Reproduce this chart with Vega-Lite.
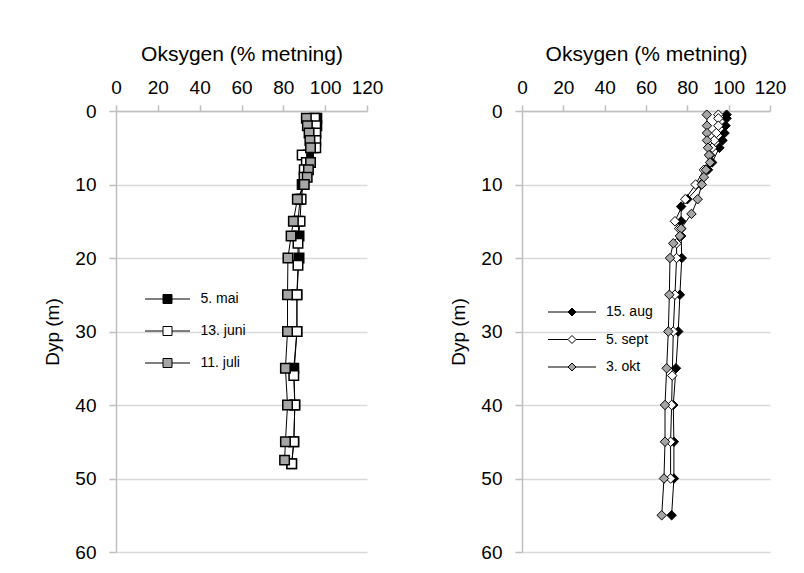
{
  "$schema": "https://vega.github.io/schema/vega-lite/v6.json",
  "padding": {"left": 43, "top": 43, "right": 0, "bottom": 0},
  "spacing": 66,
  "background": "white",
  "resolve": {"scale": {"fill": "independent"}, "legend": {"fill": "independent"}},
  "config": {
    "font": "Liberation Sans",
    "view": {"stroke": null},
    "axis": {
      "labelFont": "Liberation Sans", "titleFont": "Liberation Sans",
      "labelFontSize": 19, "titleFontSize": 19, "titleFontWeight": "normal",
      "labelColor": "#000000", "titleColor": "#000000", "labelOverlap": false, "labelBound": false, "labelFlush": false,
      "domainColor": "#bfbfbf", "tickColor": "#bfbfbf", "domainWidth": 1.5, "tickWidth": 1.5,
      "gridColor": "#d9d9d9", "gridWidth": 1.5
    },
    "legend": {
      "labelFont": "Liberation Sans", "labelFontSize": 14, "labelColor": "#000000",
      "padding": 0, "symbolStrokeColor": "#000000", "symbolStrokeWidth": 1
    }
  },
  "datasets": {
    "left": [
      {"s": "5. mai", "d": 1, "o": 96}, {"s": "5. mai", "d": 2, "o": 96}, {"s": "5. mai", "d": 3, "o": 95.5}, {"s": "5. mai", "d": 4, "o": 95}, {"s": "5. mai", "d": 5, "o": 94.5}, {"s": "5. mai", "d": 6, "o": 92}, {"s": "5. mai", "d": 7, "o": 92}, {"s": "5. mai", "d": 8, "o": 91}, {"s": "5. mai", "d": 9, "o": 90}, {"s": "5. mai", "d": 10, "o": 89}, {"s": "5. mai", "d": 12, "o": 88}, {"s": "5. mai", "d": 15, "o": 87}, {"s": "5. mai", "d": 17, "o": 87.5}, {"s": "5. mai", "d": 20, "o": 87.5}, {"s": "5. mai", "d": 25, "o": 86.5}, {"s": "5. mai", "d": 30, "o": 86.5}, {"s": "5. mai", "d": 35, "o": 85}, {"s": "5. mai", "d": 40, "o": 85.5}, {"s": "5. mai", "d": 45, "o": 85}, {"s": "5. mai", "d": 48, "o": 84},
      {"s": "13. juni", "d": 1, "o": 95}, {"s": "13. juni", "d": 2, "o": 95.5}, {"s": "13. juni", "d": 3, "o": 95.5}, {"s": "13. juni", "d": 4, "o": 95.5}, {"s": "13. juni", "d": 5, "o": 95.5}, {"s": "13. juni", "d": 6, "o": 89}, {"s": "13. juni", "d": 7, "o": 91}, {"s": "13. juni", "d": 8, "o": 90}, {"s": "13. juni", "d": 9, "o": 90}, {"s": "13. juni", "d": 10, "o": 89.5}, {"s": "13. juni", "d": 12, "o": 88.5}, {"s": "13. juni", "d": 15, "o": 88}, {"s": "13. juni", "d": 18, "o": 87}, {"s": "13. juni", "d": 21, "o": 87}, {"s": "13. juni", "d": 25, "o": 86.5}, {"s": "13. juni", "d": 30, "o": 86.5}, {"s": "13. juni", "d": 36, "o": 85}, {"s": "13. juni", "d": 40, "o": 85.5}, {"s": "13. juni", "d": 45, "o": 85}, {"s": "13. juni", "d": 48, "o": 84},
      {"s": "11. juli", "d": 1, "o": 91}, {"s": "11. juli", "d": 2, "o": 91.5}, {"s": "11. juli", "d": 3, "o": 92.3}, {"s": "11. juli", "d": 4, "o": 92.7}, {"s": "11. juli", "d": 5, "o": 93}, {"s": "11. juli", "d": 7, "o": 93}, {"s": "11. juli", "d": 8, "o": 92}, {"s": "11. juli", "d": 9, "o": 91.4}, {"s": "11. juli", "d": 10, "o": 90}, {"s": "11. juli", "d": 12, "o": 86.7}, {"s": "11. juli", "d": 15, "o": 84.8}, {"s": "11. juli", "d": 17, "o": 83.7}, {"s": "11. juli", "d": 20, "o": 82.2}, {"s": "11. juli", "d": 25, "o": 82}, {"s": "11. juli", "d": 30, "o": 82}, {"s": "11. juli", "d": 35, "o": 81}, {"s": "11. juli", "d": 40, "o": 82}, {"s": "11. juli", "d": 45, "o": 81}, {"s": "11. juli", "d": 47.5, "o": 80.6}
    ],
    "right": [
      {"s": "15. aug", "d": 0.5, "o": 99}, {"s": "15. aug", "d": 1, "o": 99}, {"s": "15. aug", "d": 2, "o": 98.5}, {"s": "15. aug", "d": 3, "o": 98}, {"s": "15. aug", "d": 4, "o": 97}, {"s": "15. aug", "d": 5, "o": 95.5}, {"s": "15. aug", "d": 7, "o": 92}, {"s": "15. aug", "d": 8, "o": 90}, {"s": "15. aug", "d": 10, "o": 86.6}, {"s": "15. aug", "d": 12, "o": 80}, {"s": "15. aug", "d": 13, "o": 77}, {"s": "15. aug", "d": 15, "o": 77}, {"s": "15. aug", "d": 16, "o": 77}, {"s": "15. aug", "d": 17, "o": 77}, {"s": "15. aug", "d": 20, "o": 77.3}, {"s": "15. aug", "d": 25, "o": 76.4}, {"s": "15. aug", "d": 30, "o": 75.6}, {"s": "15. aug", "d": 35, "o": 74.5}, {"s": "15. aug", "d": 40, "o": 73.2}, {"s": "15. aug", "d": 45, "o": 73.5}, {"s": "15. aug", "d": 50, "o": 73.5}, {"s": "15. aug", "d": 55, "o": 72.4},
      {"s": "5. sept", "d": 0.5, "o": 95}, {"s": "5. sept", "d": 1, "o": 95}, {"s": "5. sept", "d": 2, "o": 95}, {"s": "5. sept", "d": 3, "o": 94}, {"s": "5. sept", "d": 4, "o": 93}, {"s": "5. sept", "d": 5, "o": 92}, {"s": "5. sept", "d": 6, "o": 91}, {"s": "5. sept", "d": 8, "o": 88}, {"s": "5. sept", "d": 10, "o": 84}, {"s": "5. sept", "d": 12, "o": 79}, {"s": "5. sept", "d": 15, "o": 74}, {"s": "5. sept", "d": 16, "o": 76}, {"s": "5. sept", "d": 18, "o": 74.8}, {"s": "5. sept", "d": 20, "o": 74.8}, {"s": "5. sept", "d": 25, "o": 74}, {"s": "5. sept", "d": 30, "o": 73.2}, {"s": "5. sept", "d": 36, "o": 72.7}, {"s": "5. sept", "d": 40, "o": 72.4}, {"s": "5. sept", "d": 45, "o": 71.9}, {"s": "5. sept", "d": 50, "o": 71.9},
      {"s": "3. okt", "d": 0.5, "o": 89.4}, {"s": "3. okt", "d": 2, "o": 89.5}, {"s": "3. okt", "d": 3, "o": 89.5}, {"s": "3. okt", "d": 4, "o": 89.5}, {"s": "3. okt", "d": 5, "o": 90}, {"s": "3. okt", "d": 6, "o": 90.5}, {"s": "3. okt", "d": 7, "o": 91}, {"s": "3. okt", "d": 8, "o": 89}, {"s": "3. okt", "d": 9, "o": 88}, {"s": "3. okt", "d": 10, "o": 87}, {"s": "3. okt", "d": 12, "o": 85}, {"s": "3. okt", "d": 14, "o": 82}, {"s": "3. okt", "d": 16, "o": 77}, {"s": "3. okt", "d": 17, "o": 76.4}, {"s": "3. okt", "d": 18, "o": 73.2}, {"s": "3. okt", "d": 20, "o": 71.6}, {"s": "3. okt", "d": 25, "o": 71.3}, {"s": "3. okt", "d": 30, "o": 70.8}, {"s": "3. okt", "d": 35, "o": 70}, {"s": "3. okt", "d": 40, "o": 69.2}, {"s": "3. okt", "d": 45, "o": 69.2}, {"s": "3. okt", "d": 50, "o": 68.7}, {"s": "3. okt", "d": 55, "o": 67.6}
    ]
  },
  "hconcat": [
    {
      "width": 251, "height": 441,
      "data": {"name": "left"},
      "encoding": {
        "x": {"field": "o", "type": "quantitative", "scale": {"domain": [0, 120], "nice": false},
          "axis": {"orient": "top", "values": [0, 20, 40, 60, 80, 100, 120], "grid": false, "tickSize": 6, "labelPadding": 8, "title": "Oksygen (% metning)", "titleFontSize": 21, "titlePadding": 14}},
        "y": {"field": "d", "type": "quantitative", "scale": {"domain": [0, 60], "reverse": true, "nice": false},
          "axis": {"values": [0, 10, 20, 30, 40, 50, 60], "tickSize": 7, "labelPadding": 13, "title": "Dyp (m)", "titlePadding": 12}}
      },
      "layer": [
        {"mark": {"type": "line", "color": "#000000", "strokeWidth": 1},
         "encoding": {"detail": {"field": "s"}, "order": {"field": "d", "type": "quantitative"}}},
        {"mark": {"type": "point", "shape": "square", "filled": true, "stroke": "#000000", "strokeWidth": 1.5, "size": 90, "opacity": 1},
         "encoding": {"fill": {"field": "s", "type": "nominal", "sort": ["5. mai", "13. juni", "11. juli"],
           "scale": {"domain": ["5. mai", "13. juni", "11. juli"], "range": ["#000000", "#ffffff", "#a6a6a6"]},
           "legend": {"orient": "none", "legendX": 44.5, "legendY": 181, "title": null, "symbolType": "M-5,0H-1M1,0H5M-1,-1H1V1H-1Z", "symbolSize": 81, "labelOffset": 26, "rowPadding": 18}}}}
      ]
    },
    {
      "width": 248, "height": 441,
      "data": {"name": "right"},
      "encoding": {
        "x": {"field": "o", "type": "quantitative", "scale": {"domain": [0, 120], "nice": false},
          "axis": {"orient": "top", "values": [0, 20, 40, 60, 80, 100, 120], "grid": false, "tickSize": 6, "labelPadding": 8, "title": "Oksygen (% metning)", "titleFontSize": 21, "titlePadding": 14}},
        "y": {"field": "d", "type": "quantitative", "scale": {"domain": [0, 60], "reverse": true, "nice": false},
          "axis": {"values": [0, 10, 20, 30, 40, 50, 60], "tickSize": 7, "labelPadding": 13, "title": "Dyp (m)", "titlePadding": 12}}
      },
      "layer": [
        {"mark": {"type": "line", "color": "#000000", "strokeWidth": 1},
         "encoding": {"detail": {"field": "s"}, "order": {"field": "d", "type": "quantitative"}}},
        {"mark": {"type": "point", "shape": "diamond", "filled": true, "stroke": "#000000", "strokeWidth": 1, "size": 90, "opacity": 1},
         "encoding": {"fill": {"field": "s", "type": "nominal", "sort": ["15. aug", "5. sept", "3. okt"],
           "scale": {"domain": ["15. aug", "5. sept", "3. okt"], "range": ["#000000", "#ffffff", "#a6a6a6"]},
           "legend": {"orient": "none", "legendX": 43, "legendY": 194, "title": null, "symbolType": "M-6,0H-1M1,0H6M-1,0L0,-1L1,0L0,1Z", "symbolSize": 64, "labelOffset": 27, "rowPadding": 13.5}}}}
      ]
    }
  ]
}
